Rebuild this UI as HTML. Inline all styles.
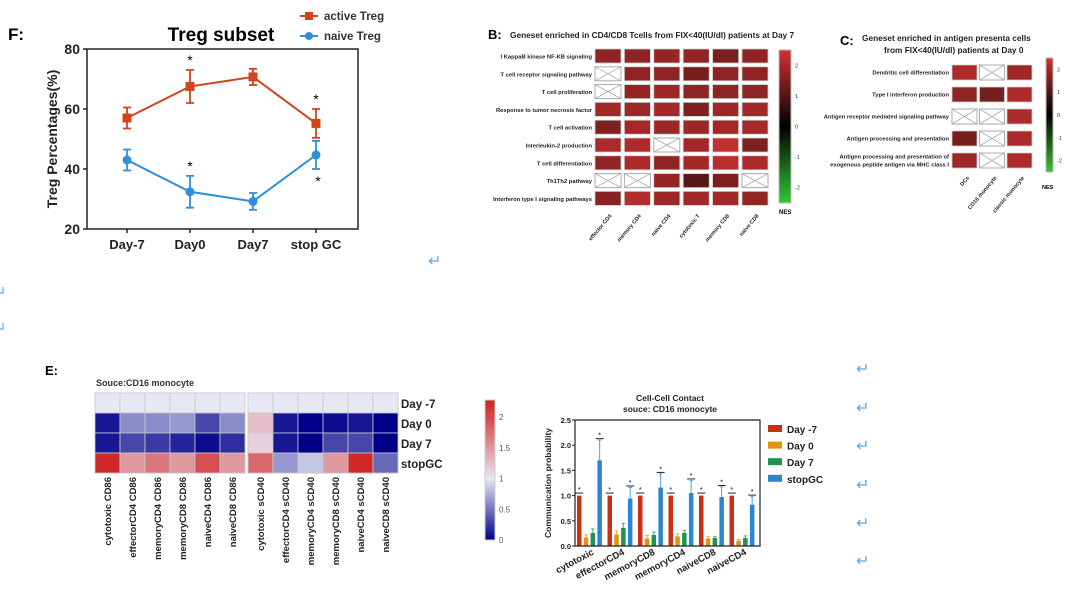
<!DOCTYPE html>
<html><head><meta charset="utf-8"><style>
body{margin:0;background:#fff;}
svg{display:block;font-family:"Liberation Sans",Arial,sans-serif;}
</style></head><body>
<svg id="root" width="1080" height="590" viewBox="0 0 1080 590" xmlns="http://www.w3.org/2000/svg">
<g id="gF"></g>
<g id="gB"></g>
<g id="gC"></g>
<g id="gE"></g>
<g id="gBar"></g>
<g id="gArr"></g>
</svg>
<script>
// ---- Panel F data ----
const fCategories = ["Day-7","Day0","Day7","stop GC"];
const fActive = [57, 67.5, 70.7, 55.2];
const fActiveErr = [3.5, 5.5, 2.7, 4.8];
const fNaive = [43, 32.4, 29.2, 44.7];
const fNaiveErr = [3.5, 5.3, 2.8, 4.7];
const fYTicks = [20, 40, 60, 80];
// ---- Panel B data ----
const bRows = ["I KappaB kinase NF-KB signaling","T cell receptor signaling pathway","T cell proliferation","Response to tumor necrosis factor","T cell activation","Interleukin-2 production","T cell differentiation","Th1Th2 pathway","Interferon type I signaling pathways"];
const bCols = ["effector CD4","memory CD4","naive CD4","cytotoxic T","memory CD8","naive CD8"];
const bValues = [
 [1.6,1.6,1.7,1.7,1.4,1.6],
 [null,1.6,1.6,1.3,1.6,1.6],
 [null,1.7,1.8,1.6,1.6,1.6],
 [1.9,1.8,1.9,1.4,1.8,1.9],
 [1.4,1.9,1.8,1.8,1.9,1.9],
 [2.0,2.0,null,1.9,2.3,1.4],
 [1.6,2.0,1.6,1.9,2.2,2.0],
 [null,null,1.7,0.9,1.4,null],
 [1.5,2.1,1.8,1.9,1.9,1.7]];
const bTicks = [2,1,0,-1,-2];
// ---- Panel C data ----
const cRows = ["Dendritic cell differentiation","Type I interferon production","Antigen receptor mediated signaling pathway","Antigen processing and presentation","Antigen processing and presentation of|exogenous peptide antigen via MHC class I"];
const cCols = ["DCs","CD16 monocyte","classic monocyte"];
const cValues = [[2.0,null,1.8],[1.6,1.3,2.0],[null,null,2.0],[1.3,null,2.0],[1.8,null,2.0]];
// ---- Panel E data ----
const eRows = ["Day -7","Day 0","Day 7","stopGC"];
const eCols = ["cytotoxic CD86","effectorCD4 CD86","memoryCD4 CD86","memoryCD8 CD86","naiveCD4 CD86","naiveCD8 CD86","cytotoxic sCD40","effectorCD4 sCD40","memoryCD4 sCD40","memoryCD8 sCD40","naiveCD4 sCD40","naiveCD8 sCD40"];
const eValues = [
 [1,1,1,1,1,1,1,1,1,1,1,1],
 [0.1,0.6,0.6,0.65,0.3,0.6,1.25,0.1,0,0.05,0.1,0],
 [0.1,0.3,0.25,0.15,0.05,0.2,1.15,0.1,0,0.3,0.3,0],
 [2.2,1.5,1.7,1.5,1.95,1.5,1.8,0.65,0.85,1.5,2.2,0.45]];
const eTicks = [0,0.5,1,1.5,2];
// ---- Bar chart data ----
const barCategories = ["cytotoxic","effectorCD4","memoryCD8","memoryCD4","naiveCD8","naiveCD4"];
const barSeriesNames = ["Day -7","Day 0","Day 7","stopGC"];
const barDayM7 = [1,1,1,1,1,1];
const barDay0 = [0.17,0.23,0.15,0.19,0.15,0.10];
const barDay7 = [0.26,0.36,0.22,0.26,0.16,0.16];
const barStop = [1.70,0.94,1.16,1.05,0.97,0.82];
const barDay0Err = [0.05,0.07,0.06,0.05,0.04,0.03];
const barDay7Err = [0.08,0.09,0.06,0.05,0.03,0.04];
const barStopErr = [0.40,0.22,0.27,0.25,0.20,0.16];
const barYTicks = [0,0.5,1,1.5,2,2.5];

const NS="http://www.w3.org/2000/svg";
function mk(parent,tag,attrs,text){const e=document.createElementNS(NS,tag);for(const k in attrs)e.setAttribute(k,attrs[k]);if(text!==undefined)e.textContent=text;parent.appendChild(e);return e;}

// ================= Panel F =================
(function(){
const g=document.getElementById('gF');
const x0=87,x1=358,yTop=49,yBot=229;
const y=v=>yBot-(v-20)/60*(yBot-yTop);
const xs=i=>127+i*63;
let t=mk(g,'text',{x:8,y:40,'font-size':17,'font-weight':'bold'},'F:');


t=mk(g,'text',{x:221,y:41,'font-size':19,'font-weight':'bold','text-anchor':'middle'},'Treg subset');


let ax=mk(g,'path',{d:`M${x0} ${yTop}V${yBot}H${x1}V${yTop}H${x0}`,fill:'none',stroke:'#222','stroke-width':1.5});


fYTicks.forEach(v=>{mk(g,'line',{x1:x0-4,x2:x0,y1:y(v),y2:y(v),stroke:'#222','stroke-width':1.5});
 const tl=mk(g,'text',{x:x0-7,y:y(v)+5,'font-size':14,'font-weight':'bold','text-anchor':'end',fill:'#222'},v);
 
 });
fCategories.forEach((c,i)=>{mk(g,'line',{x1:xs(i),x2:xs(i),y1:yBot,y2:yBot+4,stroke:'#222','stroke-width':1.5});
 const tl=mk(g,'text',{x:xs(i),y:yBot+20,'font-size':13,'font-weight':'bold','text-anchor':'middle',fill:'#222'},c);
 
 });
t=mk(g,'text',{transform:`translate(57,139) rotate(-90)`,'font-size':14,'font-weight':'bold','text-anchor':'middle',fill:'#222'},'Treg Percentages(%)');


function series(vals,errs,col,shape,name){
 const sg=mk(g,'g',{});
 
 
 mk(sg,'polyline',{points:vals.map((v,i)=>xs(i)+','+y(v)).join(' '),fill:'none',stroke:col,'stroke-width':2});
 vals.forEach((v,i)=>{const X=xs(i);
  mk(sg,'path',{d:`M${X} ${y(v-errs[i])}V${y(v+errs[i])}M${X-4} ${y(v-errs[i])}h8M${X-4} ${y(v+errs[i])}h8`,stroke:col,'stroke-width':1.8,fill:'none'});
  let m;
  if(shape==='sq') m=mk(sg,'rect',{x:X-4.5,y:y(v)-4.5,width:9,height:9,fill:col});
  else m=mk(sg,'circle',{cx:X,cy:y(v),r:4.5,fill:col});
  
  
 });
}
series(fActive,fActiveErr,'#d2441c','sq','active-treg-series');
series(fNaive,fNaiveErr,'#2f8fd8','ci','naive-treg-series');
[[1,fActive[1]+fActiveErr[1]+3],[3,fActive[3]+fActiveErr[3]+3],[1,fNaive[1]+fNaiveErr[1]+3]].forEach(p=>{
 const s=mk(g,'text',{x:xs(p[0]),y:y(p[1])+4,'font-size':14,'text-anchor':'middle'},'*');
 
 });
const s2=mk(g,'text',{x:xs(3)+2,y:y(fNaive[3]-fNaiveErr[3]-3)+8,'font-size':14,'text-anchor':'middle'},'*');


[['active Treg','#d2441c','sq',16],['naive Treg','#2f8fd8','ci',36]].forEach(l=>{
 const lg=mk(g,'g',{});
 
 
 mk(lg,'line',{x1:300,x2:318,y1:l[3],y2:l[3],stroke:l[1],'stroke-width':2});
 if(l[2]==='sq')mk(lg,'rect',{x:305,y:l[3]-4,width:8,height:8,fill:l[1]});else mk(lg,'circle',{cx:309,cy:l[3],r:4,fill:l[1]});
 mk(lg,'text',{x:324,y:l[3]+4,'font-size':11.5,'font-weight':'bold',fill:'#333'},l[0]);
});
})();

// NES colormap
function nesColor(v){
 const t=Math.max(-1,Math.min(1,v/2.5));
 if(t>=0){return `rgb(${Math.round(20+t*190)},${Math.round(10+t*40)},${Math.round(10+t*40)})`;}
 const a=-t;return `rgb(${Math.round(10+a*40)},${Math.round(10+a*190)},${Math.round(10+a*40)})`;
}
function crossCell(g,x,y,w,h){
 mk(g,'rect',{x:x,y:y,width:w,height:h,fill:'#fff',stroke:'#aaa','stroke-width':1});
 mk(g,'path',{d:`M${x} ${y}L${x+w} ${y+h}M${x+w} ${y}L${x} ${y+h}`,stroke:'#aaa','stroke-width':0.8});
}
function nesBar(g,x,y0,y1,w,ticks){
 const id='nesgrad'+x;
 const defs=mk(g,'defs',{});
 const lg=mk(defs,'linearGradient',{id:id,x1:0,y1:0,x2:0,y2:1});
 mk(lg,'stop',{offset:'0%','stop-color':nesColor(2.5)});
 mk(lg,'stop',{offset:'50%','stop-color':'#000'});
 mk(lg,'stop',{offset:'100%','stop-color':nesColor(-2.5)});
 const r=mk(g,'rect',{x:x,y:y0,width:w,height:y1-y0,fill:`url(#${id})`,stroke:'#bbb'});
 
 
 ticks.forEach(v=>{const yy=y0+(2.5-v)/5*(y1-y0);mk(g,'text',{x:x+w+4,y:yy+2,'font-size':5.5,fill:'#333'},v);});
}

// ================= Panel B =================
(function(){
const g=document.getElementById('gB');
let t=mk(g,'text',{x:488,y:39,'font-size':13,'font-weight':'bold'},'B:');


t=mk(g,'text',{x:510,y:38,'font-size':8.3,'font-weight':'bold',fill:'#222'},'Geneset enriched in CD4/CD8 Tcells from FIX<40(IU/dl) patients at Day 7');


const cx=i=>595+i*29.4, ry=j=>49+j*17.8, w=26,h=14;
bRows.forEach((r,j)=>{const tl=mk(g,'text',{x:592,y:ry(j)+9.5,'font-size':5.8,'font-weight':'bold','text-anchor':'end',fill:'#222'},r);
 
 
 bCols.forEach((c,i)=>{const v=bValues[j][i];
  if(v===null)crossCell(g,cx(i),ry(j),w,h);
  else{const cell=mk(g,'rect',{x:cx(i),y:ry(j),width:w,height:h,fill:nesColor(v),stroke:'#ccc','stroke-width':0.8});
   
   }
 });});
bCols.forEach((c,i)=>{const X=cx(i)+w/2+4,Y=216;
 const tl=mk(g,'text',{transform:`translate(${X},${Y}) rotate(-50)`,'font-size':5.5,'font-weight':'bold','text-anchor':'end',fill:'#222'},c);
 
 });
nesBar(g,779,50,203,12,bTicks);
t=mk(g,'text',{x:779,y:214,'font-size':6,'font-weight':'bold'},'NES');


})();

// ================= Panel C =================
(function(){
const g=document.getElementById('gC');
let t=mk(g,'text',{x:840,y:45,'font-size':13,'font-weight':'bold'},'C:');


t=mk(g,'text',{x:862,y:41,'font-size':8.3,'font-weight':'bold',fill:'#222'},'Geneset enriched in antigen presenta cells');


mk(g,'text',{x:884,y:53,'font-size':8.3,'font-weight':'bold',fill:'#222'},'from FIX<40(IU/dl) patients at Day 0');
const cx=i=>952+i*27.5, ry=j=>65+j*22, w=25,h=15;
cRows.forEach((r,j)=>{const parts=r.split('|');
 parts.forEach((p,k)=>{const tl=mk(g,'text',{x:949,y:ry(j)+9.5+(k-(parts.length-1)/2)*8,'font-size':5.8,'font-weight':'bold','text-anchor':'end',fill:'#222'},p);
  
  });
 cCols.forEach((c,i)=>{const v=cValues[j][i];
  if(v===null)crossCell(g,cx(i),ry(j),w,h);
  else{const cell=mk(g,'rect',{x:cx(i),y:ry(j),width:w,height:h,fill:nesColor(v),stroke:'#ccc','stroke-width':0.8});
   
   }
 });});
cCols.forEach((c,i)=>{const X=cx(i)+w/2+5,Y=178;
 const tl=mk(g,'text',{transform:`translate(${X},${Y}) rotate(-50)`,'font-size':5.5,'font-weight':'bold','text-anchor':'end',fill:'#222'},c);
 
 });
nesBar(g,1046,58,172,7,bTicks);
t=mk(g,'text',{x:1042,y:189,'font-size':5.5,'font-weight':'bold'},'NES');


})();

// ================= Panel E heatmap =================
function eColor(v){
 const lo=[0,0,139],mid=[232,232,244],hi=[208,32,32];
 let a,b,t;
 if(v<=1){a=lo;b=mid;t=Math.max(0,v);}else{a=mid;b=hi;t=Math.min(1,(v-1)/1.25);}
 return `rgb(${a.map((c,k)=>Math.round(c+(b[k]-c)*t)).join(',')})`;
}
(function(){
const g=document.getElementById('gE');
let t=mk(g,'text',{x:45,y:375,'font-size':13,'font-weight':'bold'},'E:');


t=mk(g,'text',{x:96,y:386,'font-size':9,'font-weight':'bold',fill:'#333'},'Souce:CD16 monocyte');


const cx=i=>(i<6?95+i*25:248+(i-6)*25), ry=j=>393+j*20;
mk(g,'rect',{x:95,y:393,width:150,height:80,fill:'none',stroke:'#bbb'});
mk(g,'rect',{x:248,y:393,width:150,height:80,fill:'none',stroke:'#bbb'});
eValues.forEach((row,j)=>row.forEach((v,i)=>{
 const cell=mk(g,'rect',{x:cx(i),y:ry(j),width:25,height:20,fill:eColor(v),stroke:'#c8c8c8','stroke-width':0.8});
 
 }));
eRows.forEach((r,j)=>{const tl=mk(g,'text',{x:401,y:ry(j)+15,'font-size':11.5,'font-weight':'bold',fill:'#222'},r);
 
 });
eCols.forEach((c,i)=>{const tl=mk(g,'text',{transform:`translate(${cx(i)+16},477) rotate(-90)`,'font-size':9.5,'font-weight':'bold','text-anchor':'end',fill:'#222'},c);
 
 });
const defs=mk(g,'defs',{});
const lg=mk(defs,'linearGradient',{id:'egrad',x1:0,y1:1,x2:0,y2:0});
[0,0.5,1,1.5,2,2.28].forEach(v=>mk(lg,'stop',{offset:(v/2.28*100)+'%','stop-color':eColor(v)}));
const cb=mk(g,'rect',{x:485,y:400,width:10,height:140,fill:'url(#egrad)',stroke:'#ccc'});


eTicks.forEach(v=>{const yy=540-v*61.5;
 const tl=mk(g,'text',{x:499,y:yy+3,'font-size':8,fill:'#555'},v);
 
 });
})();

// ================= Bar chart =================
(function(){
const g=document.getElementById('gBar');
const x0=575,x1=760,yTop=420,yBot=546;
const y=v=>yBot-v/2.5*(yBot-yTop);
const colors=['#cc3014','#e0940f','#1f9450','#2b86d2'];
const series=[barDayM7,barDay0,barDay7,barStop];
const errs=[null,barDay0Err,barDay7Err,barStopErr];
const bx=(ci,si)=>577+ci*30.5+si*6.8;
let t=mk(g,'text',{x:670,y:401,'font-size':8.5,'font-weight':'bold','text-anchor':'middle',fill:'#222'},'Cell-Cell Contact');


mk(g,'text',{x:670,y:412,'font-size':8.5,'font-weight':'bold','text-anchor':'middle',fill:'#222'},'souce: CD16 monocyte');
series.forEach((s,si)=>s.forEach((v,ci)=>{
 const X=bx(ci,si);
 if(errs[si]){const e=errs[si][ci];
  mk(g,'path',{d:`M${X+2.25} ${y(v)}V${y(v+e)}M${X+0.5} ${y(v+e)}h3.5`,stroke:colors[si],'stroke-width':1,opacity:0.8});}
 const b=mk(g,'rect',{x:X,y:y(v),width:4.5,height:yBot-y(v),fill:colors[si]});
 
 
}));
barCategories.forEach((c,ci)=>{
 const st=[[0,barDayM7[ci]+0.05],[3,barStop[ci]+barStopErr[ci]+0.03]];
 st.forEach(p=>{const X=bx(ci,p[0])+2.25;
  mk(g,'line',{x1:X-4,x2:X+4,y1:y(p[1]),y2:y(p[1]),stroke:'#222','stroke-width':1});
  const s=mk(g,'text',{x:X,y:y(p[1])-1,'font-size':7,'text-anchor':'middle'},'*');
  
  });
 const tl=mk(g,'text',{transform:`translate(${bx(ci,2)+4},554) rotate(-28)`,'font-size':9.5,'font-weight':'bold','text-anchor':'end',fill:'#222'},c);
 
 
});
const fr=mk(g,'path',{d:`M${x0} ${yTop}V${yBot}H${x1}V${yTop}H${x0}`,fill:'none',stroke:'#222','stroke-width':1.2});


barYTicks.forEach(v=>{mk(g,'line',{x1:x0-3,x2:x0,y1:y(v),y2:y(v),stroke:'#222'});
 const tl=mk(g,'text',{x:x0-4,y:y(v)+3,'font-size':7.5,'font-weight':'bold','text-anchor':'end',fill:'#222'},v.toFixed(1));
 
 });
t=mk(g,'text',{transform:`translate(551,483) rotate(-90)`,'font-size':8.5,'font-weight':'bold','text-anchor':'middle',fill:'#222'},'Communication probability');


barSeriesNames.forEach((n,si)=>{const Y=429+si*16.6;
 const lg=mk(g,'g',{});
 
 
 mk(lg,'rect',{x:768,y:Y-4,width:14,height:7,fill:colors[si]});
 mk(lg,'text',{x:787,y:Y+4,'font-size':10,'font-weight':'bold',fill:'#222'},n);});
})();

// ================= return marks =================
(function(){
const g=document.getElementById('gArr');
[[428,266],[856,374],[856,413],[856,451],[856,490],[856,528],[856,566]].forEach(p=>{
 const a=mk(g,'text',{x:p[0],y:p[1],'font-size':16,fill:'#5aa6ee'},'\u21B5');
 
 });
[[0,293],[0,329]].forEach(p=>{
 const a=mk(g,'path',{d:`M${p[0]+3} ${p[1]-6}V${p[1]}H${p[0]}`,stroke:'#5aa6ee','stroke-width':1.2,fill:'none'});
 
 });
})();
</script>
</body></html>
